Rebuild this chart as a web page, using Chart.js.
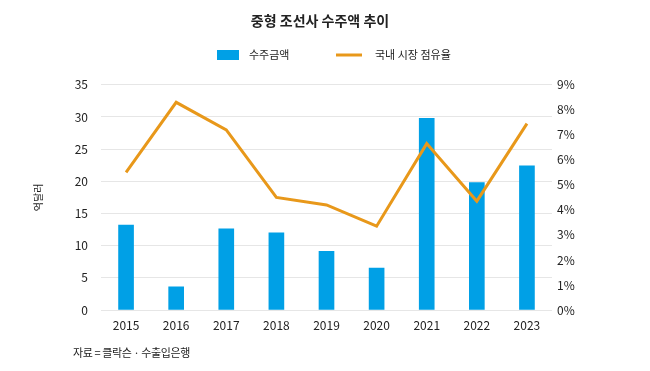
<!DOCTYPE html>
<html>
<head>
<meta charset="utf-8">
<script src="https://cdn.jsdelivr.net/npm/chart.js@4/dist/chart.umd.min.js"></script>
<style>
  html, body { margin: 0; padding: 0; background: #ffffff; }
  #wrap { position: relative; width: 650px; height: 371px; }
  #footer { position: absolute; left: 73px; top: 344px; font-family: "Noto Sans CJK KR", sans-serif; font-size: 11px; letter-spacing: -0.4px; color: #222; line-height: 16px; }
</style>
</head>
<body>
<div id="wrap">
  <canvas id="c" width="650" height="371"></canvas>
  <div id="footer">자료 = 클락슨 · 수출입은행</div>
</div>
<script>
const categories = ['2015', '2016', '2017', '2018', '2019', '2020', '2021', '2022', '2023'];
const orderAmount = [13.2, 3.6, 12.6, 12.0, 9.1, 6.5, 29.8, 19.8, 22.4];
const marketShare = [5.5, 8.3, 7.2, 4.5, 4.2, 3.35, 6.65, 4.35, 7.45];
const seriesNames = ['수주금액', '국내 시장 점유율'];
const chartTitle = '중형 조선사 수주액 추이';
const leftAxisTitle = '억달러';

const FONT = '"Noto Sans CJK KR", "Noto Sans", sans-serif';
const BLUE = '#00A0E6';
const ORANGE = '#E8981A';

// Custom legend drawn on the canvas (wide horizontal spacing, compact height)
const legendPlugin = {
  id: 'customLegend',
  afterDraw(chart) {
    const ctx = chart.ctx;
    const ds = chart.data.datasets;
    const bar = ds.find(d => d.type === 'bar');
    const line = ds.find(d => d.type === 'line');
    const y = 55;
    ctx.save();
    ctx.font = '11px ' + FONT;
    ctx.textBaseline = 'middle';
    ctx.textAlign = 'left';
    ctx.fillStyle = bar.backgroundColor;
    ctx.fillRect(217, y - 5, 22, 10);
    ctx.fillStyle = '#222';
    ctx.fillText(bar.label, 249, y);
    ctx.strokeStyle = line.borderColor;
    ctx.lineWidth = 3;
    ctx.beginPath();
    ctx.moveTo(336, y);
    ctx.lineTo(362, y);
    ctx.stroke();
    ctx.fillStyle = '#222';
    ctx.fillText(line.label, 375, y);
    ctx.restore();
  }
};

new Chart(document.getElementById('c'), {
  data: {
    labels: categories,
    datasets: [
      {
        type: 'line',
        label: seriesNames[1],
        data: marketShare,
        yAxisID: 'y1',
        borderColor: ORANGE,
        backgroundColor: ORANGE,
        borderWidth: 3,
        pointRadius: 0,
        tension: 0,
        order: 0
      },
      {
        type: 'bar',
        label: seriesNames[0],
        data: orderAmount,
        yAxisID: 'y',
        backgroundColor: BLUE,
        borderWidth: 0,
        barThickness: 15,
        order: 1
      }
    ]
  },
  plugins: [legendPlugin],
  options: {
    responsive: false,
    animation: false,
    devicePixelRatio: 1,
    layout: { padding: { left: 30, right: 40, top: 0, bottom: 0 } },
    plugins: {
      title: {
        display: true,
        text: chartTitle,
        color: '#222',
        font: { family: FONT, size: 14, weight: 'bold' },
        padding: { top: 12, bottom: 56 }
      },
      legend: { display: false },
      tooltip: { enabled: false }
    },
    scales: {
      x: {
        grid: { display: false, drawTicks: false },
        border: { display: false },
        ticks: { color: '#222', font: { family: FONT, size: 12 }, padding: 8, maxRotation: 0 },
        afterFit: (s) => { s.height = 61; }
      },
      y: {
        position: 'left',
        min: 0, max: 35,
        ticks: { stepSize: 5, color: '#222', font: { family: FONT, size: 12 }, padding: 13 },
        grid: { color: '#e6e6e6', drawTicks: false, lineWidth: 1 },
        border: { display: false },
        title: { display: true, text: leftAxisTitle, color: '#222', font: { family: FONT, size: 10 }, padding: 2 },
        afterFit: (s) => { s.width = 71; }
      },
      y1: {
        position: 'right',
        min: 0, max: 9,
        ticks: { stepSize: 1, color: '#222', font: { family: FONT, size: 12 }, padding: 5, callback: (v) => v + '%' },
        grid: { display: false, drawTicks: false },
        border: { display: false },
        afterFit: (s) => { s.width = 58; }
      }
    }
  }
});
</script>
</body>
</html>
